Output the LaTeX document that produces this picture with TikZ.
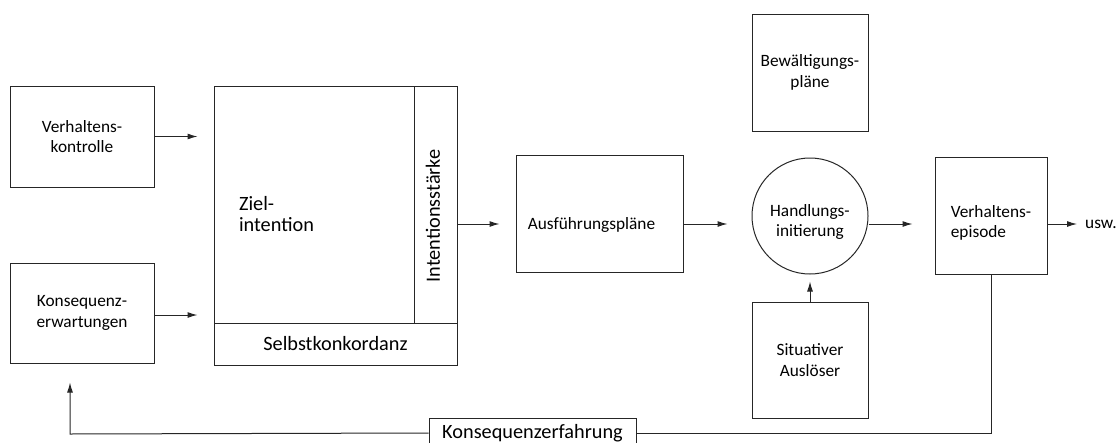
\documentclass[tikz,border=0pt]{standalone}
\usepackage{fontspec}
\setmainfont{Carlito}
\usetikzlibrary{arrows.meta}
\newcommand{\klein}{\fontsize{17.3}{20.5}\selectfont}
\newcommand{\gross}{\fontsize{20.3}{21}\selectfont}

\begin{document}
\begin{tikzpicture}[x=1pt, y=-1pt,
    box/.style={draw=black!85, line width=1pt, rectangle, inner sep=0pt, align=center, font=\klein},
    pfeil/.style={draw=black!85, line width=1pt, -{Latex[length=10pt,width=6pt]}, shorten >=#1},
    pfeil/.default=0pt]
        \useasboundingbox (0,0) rectangle (1119,442);
        % Verhaltenskontrolle box
        \node [box, minimum width=144pt, minimum height=101pt] (vk) at (82,136.5) {Verhaltens-\\kontrolle};
        % Konsequenzerwartungen box
        \node [box, minimum width=144pt, minimum height=100pt] (ke) at (82,313) {Konsequenz-\\erwartungen};
        % Zielintention box
        \node [box, font=\gross, align=left, minimum width=200pt, minimum height=237pt,
               text width=150pt, inner xsep=25pt] (ziel) at (314,204.5) {\\[12pt]Ziel-\\intention};
        % Intentionsstaerke box
        \node [box, minimum width=43pt, minimum height=237pt] (staerke) at (435.5,204.5) {};
        \node [rotate=90, font=\gross, inner sep=0pt] (staerketext) at (433,216) {Intentionsstärke};
        % Selbstkonkordanz box
        \node [box, font=\gross, minimum width=243pt, minimum height=42pt] (konk) at (335.5,344) {Selbstkonkordanz};
        % Ausfuehrungsplaene box
        \node [box, minimum width=167pt, minimum height=117pt,
               label={[font=\klein, inner sep=0pt, xshift=-8pt, yshift=-11pt]center:Ausführungspläne}] (afp) at (599.5,213.5) {};
        % Bewaeltigungsplaene box
        \node [box, minimum width=116pt, minimum height=117pt] (bew) at (810,72.5) {Bewältigungs-\\pläne};
        % Handlungsinitiierung circle
        \node [box, circle, minimum size=116pt,
               label={[font=\klein, align=center, inner sep=0pt, yshift=-6pt]center:{Handlungs-\\initierung}}] (hi) at (810,216) {};
        % Situativer Ausloeser box
        \node [box, minimum width=116pt, minimum height=116pt] (sa) at (810,360) {Situativer\\Auslöser};
        % Verhaltensepisode box
        \node [box, minimum width=112pt, minimum height=117pt,
               label={[font=\klein, align=left, inner sep=0pt, yshift=-7.5pt]center:{Verhaltens-\\episode}}] (ve) at (991,215.5) {};
        % usw label
        \node [anchor=west, font=\klein, inner sep=2pt] (usw) at (1083,224) {usw.};
        % Konsequenzerfahrung box
        \node [box, font=\gross, minimum width=207pt, minimum height=30pt] (kef) at (532.5,433) {Konsequenzerfahrung};
        % helper coordinates
        \coordinate (zeile) at (0,224);
        \coordinate (rueck) at (70,434);
        % arrows into Zielintention
        \draw [pfeil=16pt] (vk.east) -- (vk.east -| ziel.west);
        \draw [pfeil=16pt] (ke.east |- 0,315) -- (ziel.west |- 0,315);
        % main row
        \draw [pfeil=16pt] (staerke.east |- zeile) -- (afp.west |- zeile);
        \draw [pfeil=24pt] (afp.east |- zeile) -- (hi.west |- zeile);
        \draw [pfeil=22pt] (hi.east |- zeile) -- (ve.west |- zeile);
        \draw [pfeil=6pt] (ve.east |- zeile) -- (usw.west);
        % Ausloeser to Handlungsinitiierung
        \draw [pfeil=7pt] (sa.north) -- (hi.south);
        % feedback loop
        \draw [draw=black!85, line width=1pt] (ve.south) |- (kef.east);
        \draw [pfeil=19pt] (kef.west) -- (rueck) -- (rueck |- ke.south);
\end{tikzpicture}
\end{document}
